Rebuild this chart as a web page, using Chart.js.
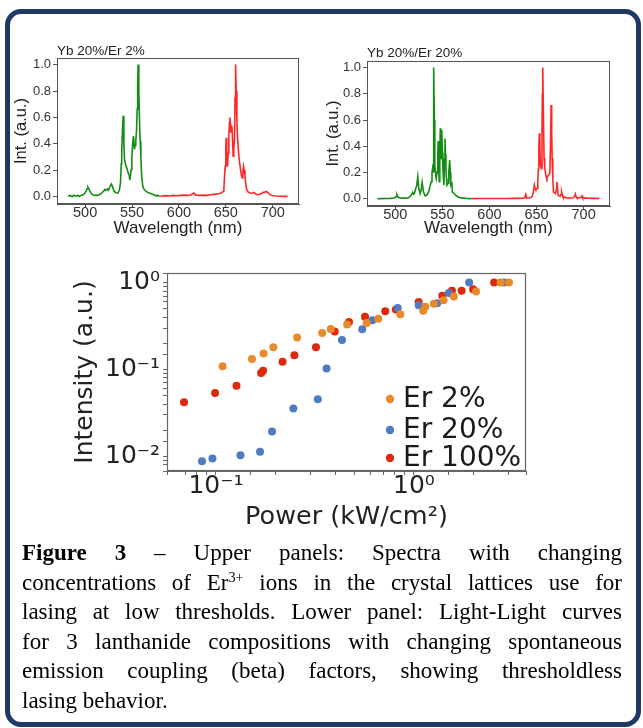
<!DOCTYPE html>
<html>
<head>
<meta charset="utf-8">
<script src="https://cdn.jsdelivr.net/npm/chart.js@4.4.1/dist/chart.umd.min.js"></script>
<style>
  html, body { margin: 0; padding: 0; background: #fff; }
  #page { position: relative; width: 643px; height: 728px; overflow: hidden; background: #fff; }
  #frame {
    position: absolute; left: 5px; top: 9px; width: 636px; height: 718px;
    box-sizing: border-box; border: 5.5px solid #1f3864; border-radius: 16px;
  }
  .box { position: absolute; }
  #caption {
    position: absolute; left: 22px; top: 538px; width: 600px;
    font-family: "Liberation Serif", "Times New Roman", serif;
    font-size: 23px; line-height: 29.5px; color: #000;
  }
  #caption div { text-align: justify; text-align-last: justify; white-space: nowrap; }
  #caption div.last { text-align-last: left; }
  #caption sup { font-size: 0.62em; line-height: 0; vertical-align: 0.55em; }
</style>
</head>
<body>
<div id="page">
  <div id="frame"></div>
  <div class="box" style="left:0px;top:30px;width:320px;height:215px"><canvas id="spec1" width="320" height="215"></canvas></div>
  <div class="box" style="left:310px;top:30px;width:320px;height:215px"><canvas id="spec2" width="320" height="215"></canvas></div>
  <div class="box" style="left:60px;top:255px;width:480px;height:285px"><canvas id="llcurve" width="480" height="285"></canvas></div>
  <div id="caption">
    <div><b>Figure 3</b> – Upper panels: Spectra with changing</div>
    <div>concentrations of Er<sup>3+</sup> ions in the crystal lattices use for</div>
    <div>lasing at low thresholds. Lower panel: Light-Light curves</div>
    <div>for 3 lanthanide compositions with changing spontaneous</div>
    <div>emission coupling (beta) factors, showing thresholdless</div>
    <div class="last">lasing behavior.</div>
  </div>
</div>
<script>
/* ---------------- DATA: spectra ---------------- */
// Yb 20%/Er 2% – green band
const wl1Green  = [481.7,484,486,488,490,492,494,496,498,500,502,503,504,506,508,510,512,514,516,518,520,521,522,524,525,526,528,529,531,533,535,536.5,537.7,538.5,539,539.8,540.6,541.3,542,543,543.8,545,546,547,547.7,548.3,549,549.8,550.5,551.1,551.6,552.1,552.6,553.3,554,554.8,555.5,556,556.5,557.2,558,558.7,559.4,560.3,561.5,563,565,567,570.4,573,575.7,577.5,579.2];
const int1Green = [0.005,0.01,0.0,0.012,0.004,0.01,0.003,0.012,0.015,0.03,0.06,0.073,0.06,0.03,0.015,0.012,0.01,0.012,0.018,0.03,0.045,0.055,0.048,0.06,0.05,0.07,0.096,0.08,0.04,0.03,0.028,0.05,0.104,0.25,0.345,0.5,0.613,0.4,0.282,0.25,0.231,0.2,0.18,0.16,0.125,0.16,0.206,0.3,0.384,0.44,0.46,0.4,0.359,0.39,0.42,0.5,0.663,0.85,1.0,0.8,0.562,0.42,0.308,0.15,0.078,0.055,0.04,0.032,0.023,0.015,0.007,0.01,0.004];
// Yb 20%/Er 2% – red band
const wl1Red  = [579.2,582,586,590,594,598,602,606,610,613,615.9,618,622,626,630,634,637,640,643,645.4,647,647.9,648.6,649.3,650,650.4,651,651.8,652.5,653.2,653.8,654.3,654.8,655.3,655.9,656.4,657,657.8,658.5,659.3,659.8,660.4,661,661.8,662.6,663.6,664.6,665.7,666.6,667.5,668.2,668.9,669.6,670.4,671.2,672.1,674,675.7,677.5,679.9,681.5,683.5,686,688,689.8,691.5,693.4,695,696.3,698,700.5,704,708,712,715.8];
const int1Red = [0.004,0.005,0.008,0.006,0.01,0.008,0.01,0.012,0.01,0.015,0.028,0.012,0.01,0.012,0.01,0.015,0.018,0.02,0.025,0.03,0.04,0.06,0.15,0.23,0.38,0.447,0.35,0.23,0.33,0.46,0.56,0.6,0.55,0.485,0.52,0.536,0.45,0.307,0.36,0.46,0.75,1.0,0.8,0.562,0.43,0.333,0.26,0.205,0.16,0.142,0.19,0.23,0.2,0.16,0.1,0.053,0.035,0.028,0.025,0.033,0.022,0.015,0.018,0.025,0.033,0.035,0.04,0.03,0.023,0.012,0.007,0.005,0.004,0.003,0.003];

// Yb 20%/Er 20% – green band
const wl2Green  = [481,485,490,495,499,500.8,501.8,503,505,508,511,514,516.7,518.5,519.5,520.3,521.7,522.8,523.9,525,526.4,527.5,528.6,529.9,531.7,533,534.6,535.7,536.7,538.2,539,539.6,540.1,540.6,541,541.5,542,543,543.5,544.6,545.1,545.6,546.2,546.7,547.3,547.8,548.3,548.8,549.2,549.6,550.1,550.6,551.2,551.7,552.3,552.8,553.3,553.8,554.4,554.9,556,556.8,557.8,558.4,559,559.5,560,560.6,562.3,564.8,567,570.2,575,580.9];
const int2Green = [0.0,0.001,0.002,0.003,0.006,0.015,0.033,0.012,0.006,0.005,0.005,0.008,0.025,0.05,0.035,0.04,0.078,0.1,0.167,0.078,0.04,0.066,0.125,0.053,0.023,0.025,0.04,0.06,0.09,0.13,0.2,0.23,0.205,0.6,1.0,0.6,0.257,0.18,0.155,0.205,0.33,0.44,0.25,0.13,0.3,0.537,0.42,0.308,0.45,0.524,0.35,0.23,0.15,0.104,0.3,0.46,0.34,0.23,0.15,0.104,0.117,0.2,0.295,0.2,0.104,0.11,0.13,0.053,0.04,0.023,0.012,0.007,0.003,0.001];
// Yb 20%/Er 20% – red band
const wl2Red  = [580.9,585,590,595,600,605,610,615,620,625,630,635,637.5,638.5,639.5,642,644,645.5,646.6,647.7,648.4,649.1,649.8,650.5,651.3,652,652.5,653,653.5,654.1,655.2,655.8,656.2,656.6,657.2,658,658.7,659.5,660.2,660.9,661.8,662.7,664.1,664.8,665.5,666.1,666.6,667.3,668,670.1,671,671.6,672.2,673,675.1,676,676.6,677.3,678,682.3,686,689,690.5,691.2,692,692.9,696,697.6,698.3,699,700,705,710,716.9];
const int2Red = [0.001,0.002,0.002,0.002,0.002,0.002,0.002,0.002,0.002,0.003,0.003,0.004,0.008,0.033,0.006,0.006,0.01,0.02,0.053,0.104,0.08,0.07,0.072,0.078,0.12,0.23,0.4,0.5,0.4,0.257,0.23,0.5,0.8,1.0,0.7,0.308,0.24,0.193,0.17,0.155,0.17,0.18,0.193,0.4,0.715,0.5,0.308,0.15,0.053,0.04,0.07,0.13,0.09,0.025,0.02,0.035,0.053,0.03,0.015,0.007,0.006,0.008,0.02,0.036,0.015,0.007,0.008,0.015,0.023,0.01,0.007,0.004,0.003,0.002];

const specTitles = ["Yb 20%/Er 2%", "Yb 20%/Er 20%"];
const specTicksY = [0, 0.2, 0.4, 0.6, 0.8, 1.0];

/* ---------------- DATA: light-light curves ---------------- */
const llLabels = ["Er 2%", "Er 20%", "Er 100%"];
const llColors = ["#e88a2c", "#4f7bc1", "#dd2a0c"];

const er2Power  = [0.108,0.152,0.174,0.195,0.257,0.344,0.38,0.46,0.577,0.66,0.853,1.114,1.14,1.26,1.41,1.59,2.06,2.74,3.02];
const er2Int    = [0.109,0.132,0.153,0.180,0.233,0.264,0.293,0.33,0.344,0.385,0.433,0.476,0.527,0.57,0.625,0.693,0.788,1.0,1.0];
const er20Power = [0.085,0.096,0.133,0.167,0.192,0.246,0.327,0.362,0.433,0.548,0.616,0.828,1.056,1.31,1.50,1.90,2.85];
const er20Int   = [0.0088,0.0095,0.0103,0.0113,0.0193,0.0356,0.0456,0.103,0.219,0.29,0.369,0.51,0.55,0.58,0.76,1.0,1.0];
const er100Power = [0.069,0.099,0.127,0.169,0.173,0.217,0.249,0.32,0.398,0.47,0.566,0.716,0.81,1.056,1.39,1.555,1.74,1.99,2.54];
const er100Int   = [0.042,0.0537,0.065,0.091,0.097,0.123,0.146,0.18,0.273,0.353,0.405,0.468,0.489,0.60,0.705,0.807,0.807,0.836,1.0];

/* ---------------- helpers ---------------- */
const pts = (xs, ys) => xs.map((x, i) => ({ x, y: ys[i] }));
const SANS = "'Liberation Sans', Arial, sans-serif";
const DEJA = "'DejaVu Sans', Verdana, sans-serif";

// full box around the plot area, like matplotlib spines
const frameBox = {
  id: "frameBox",
  afterDraw(chart, args, opts) {
    const { ctx, chartArea: a } = chart;
    ctx.save();
    ctx.strokeStyle = opts.color || "#555";
    ctx.lineWidth = opts.width || 1;
    ctx.strokeRect(a.left + 0.5, a.top + 0.5, a.right - a.left - 1, a.bottom - a.top - 1);
    ctx.restore();
  }
};

const fixSize = (w, h) => scale => {
  if (w != null) scale.width = w;
  if (h != null) scale.height = h;
};

function spectrum(id, title, gWl, gInt, rWl, rInt, geo) {
  return new Chart(document.getElementById(id), {
    type: "line",
    data: {
      datasets: [
        { data: pts(gWl, gInt), borderColor: "#148c14", borderWidth: 1.6, pointRadius: 0, tension: 0 },
        { data: pts(rWl, rInt), borderColor: "#ff2626", borderWidth: 1.6, pointRadius: 0, tension: 0 }
      ]
    },
    options: {
      responsive: false, animation: false,
      layout: { padding: { left: 0, right: geo.right, top: 0, bottom: 0 } },
      plugins: {
        legend: { display: false }, tooltip: { enabled: false },
        title: {
          display: true, text: title, align: "start", fullSize: false,
          color: "#222", font: { family: SANS, size: 13.5, weight: "normal", lineHeight: 1.0 },
          padding: { top: geo.titleTop, bottom: geo.titleBottom }
        },
        frameBox: { color: "#555" }
      },
      scales: {
        x: {
          type: "linear", min: 470, max: 728,
          afterFit: fixSize(null, geo.bottom),
          ticks: { stepSize: 50, includeBounds: false, maxRotation: 0, padding: -2,
                   color: "#333", font: { family: SANS, size: 14.5, lineHeight: 1.0 } },
          grid: { drawOnChartArea: false, tickLength: 4, color: "#555" },
          border: { color: "#555" },
          title: { display: true, text: "Wavelength (nm)", color: "#222",
                   font: { family: SANS, size: 17 }, padding: { top: 0, bottom: geo.xTitlePad } }
        },
        y: {
          type: "linear", min: -0.055, max: 1.05,
          afterFit: fixSize(57, null),
          afterBuildTicks: s => { s.ticks = specTicksY.map(v => ({ value: v })); },
          ticks: { padding: 2, color: "#333", font: { family: SANS, size: 13 },
                   callback: v => v.toFixed(1) },
          grid: { drawOnChartArea: false, tickLength: 4, color: "#555" },
          border: { color: "#555" },
          title: { display: true, text: "Int. (a.u.)", color: "#222",
                   font: { family: SANS, size: 16.5 }, padding: { top: geo.yTitlePad, bottom: 0 } }
        }
      }
    },
    plugins: [frameBox]
  });
}

spectrum("spec1", specTitles[0], wl1Green, int1Green, wl1Red, int1Red,
  { right: 21, titleTop: 14.25, titleBottom: 0.25, bottom: 41, xTitlePad: 6.8, yTitlePad: 11.8 });
spectrum("spec2", specTitles[1], wl2Green, int2Green, wl2Red, int2Red,
  { right: 20, titleTop: 16.25, titleBottom: 1.25, bottom: 39, xTitlePad: 6.5, yTitlePad: 13.1 });

/* ---------------- light-light log-log plot ---------------- */
const SUP = { "0": "\u2070", "1": "\u00b9", "2": "\u00b2", "3": "\u00b3", "-": "\u207b" };
const powLabel = v => {
  const e = Math.log10(v);
  if (Math.abs(e - Math.round(e)) > 1e-6) return "";
  return "10" + String(Math.round(e)).split("").map(c => SUP[c]).join("");
};

const llLegend = {
  id: "llLegend",
  afterDraw(chart) {
    const { ctx } = chart;
    const rows = [144, 175, 203];
    ctx.save();
    ctx.font = "28px " + DEJA;
    ctx.textBaseline = "middle";
    ctx.textAlign = "left";
    llLabels.forEach((lab, i) => {
      ctx.fillStyle = llColors[i];
      ctx.beginPath();
      ctx.arc(330, rows[i], 4.2, 0, Math.PI * 2);
      ctx.fill();
      ctx.fillStyle = "#1a1a1a";
      ctx.fillText(lab, 343, rows[i] + 1);
    });
    ctx.restore();
  }
};

new Chart(document.getElementById("llcurve"), {
  type: "scatter",
  data: {
    datasets: [
      { label: llLabels[0], data: pts(er2Power, er2Int),     backgroundColor: llColors[0], borderWidth: 0, pointRadius: 4 },
      { label: llLabels[1], data: pts(er20Power, er20Int),   backgroundColor: llColors[1], borderWidth: 0, pointRadius: 4 },
      { label: llLabels[2], data: pts(er100Power, er100Int), backgroundColor: llColors[2], borderWidth: 0, pointRadius: 4 }
    ]
  },
  options: {
    responsive: false, animation: false,
    layout: { padding: { left: 0, right: 14, top: 12, bottom: 0 } },
    plugins: { legend: { display: false }, tooltip: { enabled: false }, frameBox: { color: "#666", width: 1.2 } },
    scales: {
      x: {
        type: "logarithmic", min: 0.0566, max: 3.68,
        afterFit: fixSize(null, 69),
        ticks: { autoSkip: false, maxRotation: 0, padding: -1, color: "#222",
                 font: { family: DEJA, size: 25, lineHeight: 1.0 }, callback: powLabel },
        grid: { drawOnChartArea: false, tickLength: 4, color: "#666" },
        border: { color: "#666" },
        title: { display: true, text: "Power (kW/cm\u00b2)", color: "#222",
                 font: { family: DEJA, size: 25.5 }, padding: { top: 0, bottom: 7.7 } }
      },
      y: {
        type: "logarithmic", min: 0.0068, max: 1.29,
        afterFit: fixSize(107, null),
        ticks: { autoSkip: false, padding: 3, color: "#222",
                 font: { family: DEJA, size: 25 }, callback: powLabel },
        grid: { drawOnChartArea: false, tickLength: 4, color: "#666" },
        border: { color: "#666" },
        title: { display: true, text: "Intensity (a.u.)", color: "#222",
                 font: { family: DEJA, size: 25 }, padding: { top: 10, bottom: 0 } }
      }
    }
  },
  plugins: [frameBox, llLegend]
});
</script>
</body>
</html>
